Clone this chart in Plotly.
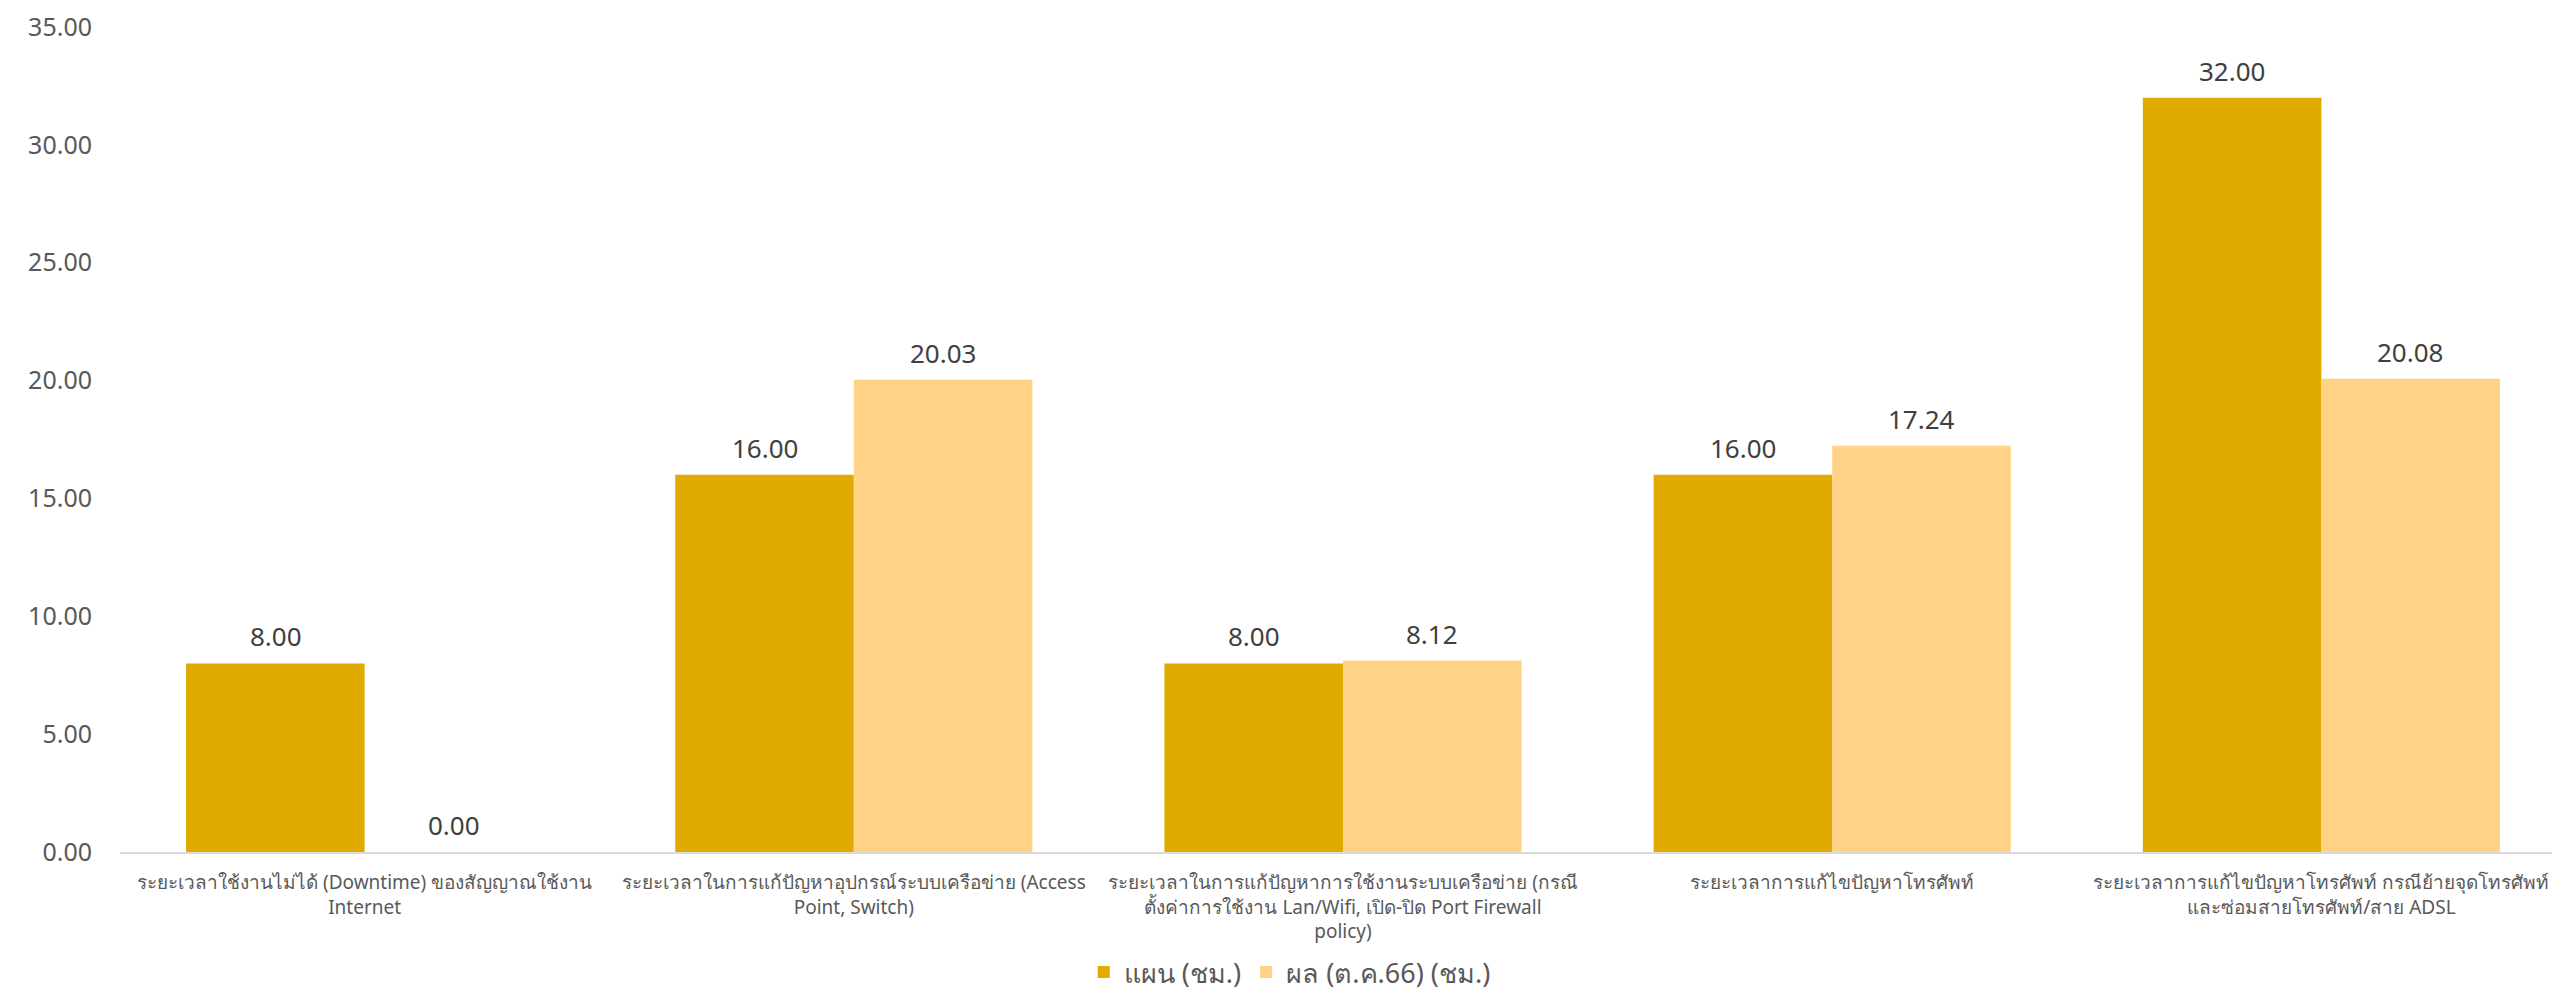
import plotly.graph_objects as go

categories = [
    "ระยะเวลาใช้งานไม่ได้ (Downtime) ของสัญญาณใช้งาน<br>Internet",
    "ระยะเวลาในการแก้ปัญหาอุปกรณ์ระบบเครือข่าย (Access<br>Point, Switch)",
    "ระยะเวลาในการแก้ปัญหาการใช้งานระบบเครือข่าย (กรณี<br>ตั้งค่าการใช้งาน Lan/Wifi, เปิด-ปิด Port Firewall<br>policy)",
    "ระยะเวลาการแก้ไขปัญหาโทรศัพท์",
    "ระยะเวลาการแก้ไขปัญหาโทรศัพท์ กรณีย้ายจุดโทรศัพท์<br>และซ่อมสายโทรศัพท์/สาย ADSL",
]
plan = [8.00, 16.00, 8.00, 16.00, 32.00]
result = [0.00, 20.03, 8.12, 17.24, 20.08]
series_names = ["แผน (ชม.)", "ผล (ต.ค.66) (ชม.)"]
colors = ["#E1AA00", "#FFD285"]
y_ticks = [0, 5, 10, 15, 20, 25, 30, 35]

FONT = "Noto Sans, Open Sans, sans-serif"

fig = go.Figure()
for name, vals, col in zip(series_names, [plan, result], colors):
    fig.add_trace(go.Bar(x=categories, y=vals, name=name, marker_color=col,
                         marker_line_width=0))

# data labels
for vals, shift in zip([plan, result], [-89, 89]):
    for c, v in zip(categories, vals):
        fig.add_annotation(x=c, y=v, text=f"{v:.2f}", showarrow=False,
                           xshift=shift, yshift=27,
                           font=dict(family=FONT, size=26, color="#404040"))

fig.update_layout(
    width=2560, height=991,
    margin=dict(l=112, r=2, t=19, b=139),
    paper_bgcolor="white", plot_bgcolor="white",
    barmode="group", bargap=0.27, bargroupgap=0,
    font=dict(family=FONT, color="#595959"),
    showlegend=True,
    legend=dict(orientation="h", x=0.394, xanchor="left", y=-0.146, yanchor="middle",
                font=dict(size=27, color="#595959"), itemwidth=30,
                traceorder="normal"),
)
fig.update_yaxes(range=[0, 35], tickvals=y_ticks, ticktext=[f"{t:.2f}" for t in y_ticks],
                 showgrid=False, zeroline=False, showline=False, automargin=False,
                 ticklabeloverflow="allow",
                 tickfont=dict(size=25, color="#595959"), ticklabelstandoff=27)
fig.update_xaxes(showline=True, linecolor="#D9D9D9", linewidth=2, showgrid=False,
                 tickangle=0, automargin=False, ticklabeloverflow="allow",
                 tickfont=dict(size=19, color="#595959"), ticks="", ticklabelstandoff=12)

fig.write_html("out.html")
